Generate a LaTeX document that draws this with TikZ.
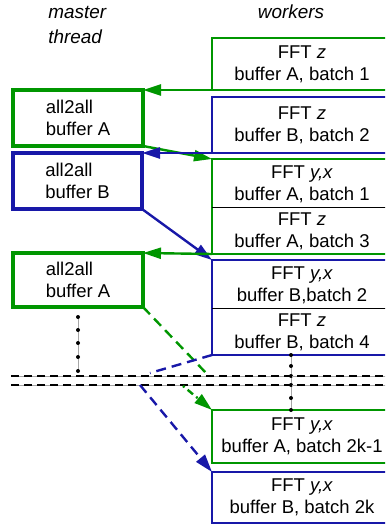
\documentclass[tikz,border=0pt]{standalone}
\usepackage{fontspec}
\setmainfont{Liberation Sans}
\usetikzlibrary{arrows.meta}
\definecolor{cgreen}{RGB}{0,150,0}
\definecolor{cblue}{RGB}{24,24,168}
\begin{document}
\begin{tikzpicture}[x=1pt,y=-1pt,
  every node/.style={font=\fontsize{18.5}{22}\selectfont, outer sep=0pt},
  hdr/.style={font=\fontsize{18.9}{22}\selectfont\itshape},
  mbox/.style={draw, line width=3.3pt, anchor=north west, inner sep=0pt, align=left},
  wbox/.style={draw, line width=2pt, anchor=north west, inner sep=0pt, minimum width=180pt, align=center},
  cell/.style={align=center, inner sep=0pt},
  sepline/.style={black, line width=0.8pt},
  arr/.style={-{Triangle[length=18pt,width=11pt]}, line width=2.4pt},
  longdash/.style={dash pattern=on 10pt off 6pt},
  dotdash/.style={dash pattern=on 2pt off 4pt on 7pt off 4pt},
  sepdash/.style={black, line width=1.2pt, dash pattern=on 8pt off 5pt},
  guide/.style={gray!70, line width=0.6pt},
  dotmark/.style={fill=black}
]
\useasboundingbox (0,0) rectangle (385,526);
\clip (0,0) rectangle (385,526);

% headers
\node[hdr, anchor=west] (hm1) at (45,12) {master};
\node[hdr, anchor=west] (hm2) at (45,37) {thread};
\node[hdr] (hw) at (291,12) {workers};

% master boxes
\node[mbox, draw=cgreen, minimum width=130pt, minimum height=56pt] (m1) at (13,90) {all2all\\buffer A};
\node[mbox, draw=cblue, minimum width=129pt, minimum height=56pt] (m2) at (13,153) {all2all\\buffer B};
\node[mbox, draw=cgreen, minimum width=130pt, minimum height=54pt] (m3) at (13,253) {all2all\\buffer A};

% worker boxes
\node[wbox, draw=cgreen, minimum height=52pt] (w1) at (212,38) {FFT \textit{z}\\buffer A, batch 1};
\node[wbox, draw=cblue, minimum height=56pt] (w2) at (212,97) {FFT \textit{z}\\buffer B, batch 2};
\node[wbox, draw=cgreen, minimum height=95pt] (w3) at (212,159) {};
\node[wbox, draw=cblue, minimum height=95pt] (w4) at (212,260) {};
\node[wbox, draw=cgreen, minimum height=53pt] (w5) at (212,410) {FFT \textit{y,x}\\buffer A, batch 2k-1};
\node[wbox, draw=cblue, minimum height=51pt] (w6) at (212,472) {FFT \textit{y,x}\\buffer B, batch 2k};

\node[cell] (w3a) at (302,184) {FFT \textit{y,x}\\buffer A, batch 1};
\node[cell] (w3b) at (302,231) {FFT \textit{z}\\buffer A, batch 3};
\node[cell] (w4a) at (302,285) {FFT \textit{y,x}\\buffer B,batch 2};
\node[cell] (w4b) at (302,332) {FFT \textit{z}\\buffer B, batch 4};

\coordinate (s3) at (212,207);
\coordinate (s4) at (212,308);
\draw[sepline] (s3) -- (s3 -| w3.east);
\draw[sepline] (s4) -- (s4 -| w4.east);

% dotted guides
\draw[guide] (78,317) -- (78,371);
\foreach \y in {317,330,343,357,371} \fill[dotmark] (78,\y) circle (2pt);
\draw[guide] (291,355) -- (291,410);
\foreach \y in {355,366,376,385,398,410} \fill[dotmark] (291,\y) circle (2pt);

% break lines
\coordinate (bl1) at (11,376);
\coordinate (br1) at (390,376);
\coordinate (bl2) at (11,385);
\coordinate (br2) at (390,385);
\draw[guide] (bl1) -- (br1);
\draw[guide] (bl2) -- (br2);
\draw[sepdash] (bl1) -- (br1);
\draw[sepdash] (bl2) -- (br2);

% solid arrows
\draw[arr, cgreen] (w1.south west) -- (m1.north east);
\draw[arr, cgreen] (m1.south east) -- (w3.north west);
\draw[arr, cblue] (w2.south west) -- (m2.north east);
\draw[arr, cblue] (m2.south east) -- (w4.north west);
\draw[arr, cgreen] (w3.south west) -- (m3.north east);

% dashed arrows across the break
\coordinate (g1) at (207,374);
\coordinate (g2) at (183,386);
\coordinate (b1) at (150,373);
\coordinate (b2) at (140,385);
\draw[cgreen, line width=2.4pt, longdash] (m3.south east) -- (g1);
\draw[arr, cgreen, dotdash] (g2) -- (w5.north west);
\draw[cblue, line width=2.4pt, longdash] (w4.south west) -- (b1);
\draw[arr, cblue, longdash] (b2) -- (w6.north west);
\end{tikzpicture}
\end{document}
